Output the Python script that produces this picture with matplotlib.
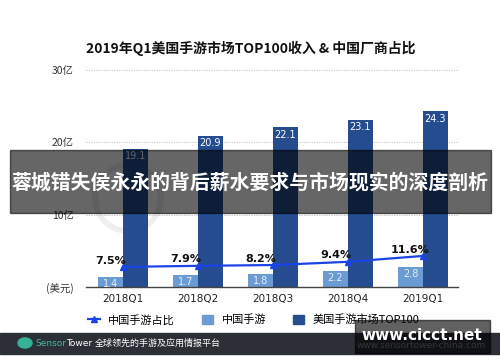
import numpy as np
import matplotlib
matplotlib.use("Agg")
import matplotlib.pyplot as plt
from matplotlib.patches import Rectangle, Circle, Ellipse
from matplotlib.lines import Line2D
from matplotlib.patches import Patch

plt.rcParams['font.family'] = ['Noto Sans CJK SC', 'DejaVu Sans']

quarters = ["2018Q1", "2018Q2", "2018Q3", "2018Q4", "2019Q1"]
china_rev = [1.4, 1.7, 1.8, 2.2, 2.8]
us_top100 = [19.1, 20.9, 22.1, 23.1, 24.3]
china_share = [7.5, 7.9, 8.2, 9.4, 11.6]
ytick_vals = [0, 10, 20, 30]
ytick_labels = ["(美元)", "10亿", "20亿", "30亿"]

W, H = 500, 362
fig = plt.figure(figsize=(W / 100, H / 100), dpi=100)

def px(x0, y0, x1, y1):
    # pixel box (top-left origin) -> figure fraction
    return [x0 / W, 1 - y1 / H, (x1 - x0) / W, (y1 - y0) / H]

ax = fig.add_axes(px(86, 70, 458, 287))
x = np.arange(len(quarters))
bw = 1 / 3

light_c = "#6a9bd3"
dark_c = "#244c8e"

# faint logo watermark behind bars
ax.add_patch(Ellipse((128 / W, 1 - 198 / H), 66 / W, 66 / H,
                     transform=fig.transFigure, fill=False,
                     ec="#eeeeee", lw=4, zorder=0))

b1 = ax.bar(x - bw / 2, china_rev, bw, color=light_c, zorder=2)
b2 = ax.bar(x + bw / 2, us_top100, bw, color=dark_c, zorder=2)

for xi, v in zip(x, china_rev):
    ax.text(xi - bw / 2, v - 0.25, f"{v}", ha="center", va="top",
            fontsize=7, color="#e6eef8", zorder=3, family="DejaVu Sans")
for xi, v in zip(x, us_top100):
    ax.text(xi + bw / 2, v - 0.35, f"{v}", ha="center", va="top",
            fontsize=7, color="white", zorder=3, family="DejaVu Sans")

ax.set_xlim(-0.493, 4.467)
ax.set_ylim(0, 30)
ax.set_yticks(ytick_vals)
ax.set_yticklabels(ytick_labels, fontsize=7.5, color="#333333")
ax.set_xticks(x)
ax.set_xticklabels(quarters, fontsize=7.5, color="#222222", family="DejaVu Sans")
ax.tick_params(axis="y", length=0, pad=9)
ax.tick_params(axis="x", length=0, pad=5)
for s in ["top", "right", "left"]:
    ax.spines[s].set_visible(False)
ax.spines["bottom"].set_color("#444444")
ax.spines["bottom"].set_linewidth(1.0)
for g in ytick_vals[1:]:
    ax.axhline(g, color="#bbbbbb", lw=0.6, ls=(0, (1.5, 1.5)), zorder=1)

ax2 = ax.twinx()
ax2.set_ylim(0, 81)
ax2.axis("off")
line_c = "#1a44e6"
ax2.plot(x, china_share, color=line_c, lw=1.6, marker="^", ms=4.5, zorder=4)
for xi, v in zip(x, china_share):
    ax2.annotate(f"{v}%", (xi, v), xytext=(-9, 1), textcoords="offset points",
                 ha="center", va="bottom", fontsize=8, fontweight="bold",
                 color="#111111", family="DejaVu Sans")

fig.text(86 / W, 1 - 48 / H, "2019年Q1美国手游市场TOP100收入 & 中国厂商占比",
         fontsize=10, fontweight="bold", color="#111111", ha="left", va="center")

handles = [Line2D([0], [0], color=line_c, lw=1.6, marker="^", ms=4.5),
           Patch(color=light_c), Patch(color=dark_c)]
fig.legend(handles, ["中国手游占比", "中国手游", "美国手游市场TOP100"],
           loc="center left", bbox_to_anchor=(84 / W, 1 - 320 / H), ncol=3,
           frameon=False, fontsize=8, handlelength=1.0, handleheight=0.9,
           columnspacing=2.4, handletextpad=0.8, borderaxespad=0)

# footer bar
fig.patches.append(Rectangle((0, 1 - 354 / H), 1, 21 / H, transform=fig.transFigure,
                             color="#2c2f36", zorder=5))
fig.patches.append(Circle((25 / W, 1 - 343 / H), 0.014, transform=fig.transFigure,
                          color="#35b397", zorder=6))
fig.text(35 / W, 1 - 343 / H, "Sensor", fontsize=6.5, color="#3fbba0",
         va="center", ha="left", zorder=7, family="DejaVu Sans")
fig.text(66 / W, 1 - 343 / H, "Tower", fontsize=6.5, color="white",
         va="center", ha="left", zorder=7, family="DejaVu Sans")
fig.text(95 / W, 1 - 343 / H, "全球领先的手游及应用情报平台", fontsize=6.5,
         color="white", va="center", ha="left", zorder=7)
fig.text(486 / W, 1 - 346 / H, "www.sensortower-china.com", fontsize=6.5,
         color="#8a8d93", va="center", ha="right", zorder=7, family="DejaVu Sans")

# overlay banner
fig.patches.append(Rectangle((10 / W, 1 - 213 / H), 481 / W, 63 / H,
                             transform=fig.transFigure, color="black",
                             alpha=0.6, zorder=10))
fig.text(250 / W, 1 - 182 / H, "蓉城错失侯永永的背后薪水要求与市场现实的深度剖析",
         fontsize=14.3, fontweight="bold", color="white", ha="center",
         va="center", zorder=11)

# site watermark
fig.patches.append(Rectangle((355 / W, 1 - 353 / H), 135 / W, 33 / H,
                             transform=fig.transFigure, color="black",
                             alpha=0.62, zorder=10))
fig.text(422 / W, 1 - 335 / H, "www.cicct.net", fontsize=11, fontweight="bold",
         color="white", ha="center", va="center", zorder=11, family="DejaVu Sans")

fig.savefig("out.png", dpi=100)
